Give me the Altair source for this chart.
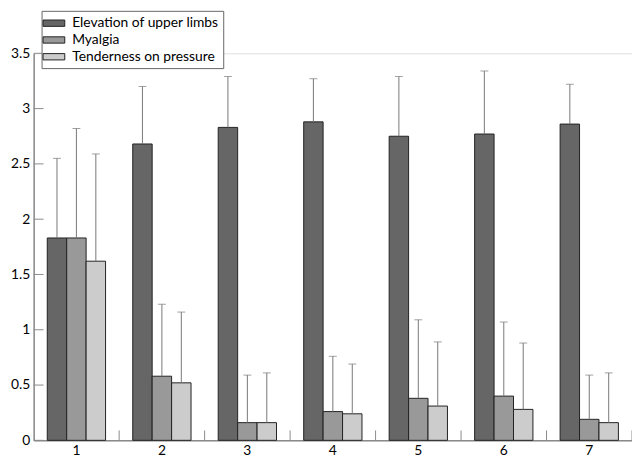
import altair as alt
import pandas as pd

groups = ["1", "2", "3", "4", "5", "6", "7"]
series = ["Elevation of upper limbs", "Myalgia", "Tenderness on pressure"]

elev = [1.83, 2.68, 2.83, 2.88, 2.75, 2.77, 2.86]
elev_sd = [0.72, 0.52, 0.46, 0.39, 0.54, 0.57, 0.36]
myal = [1.83, 0.58, 0.16, 0.26, 0.38, 0.40, 0.19]
myal_sd = [0.99, 0.65, 0.43, 0.50, 0.71, 0.67, 0.40]
tend = [1.62, 0.52, 0.16, 0.24, 0.31, 0.28, 0.16]
tend_sd = [0.97, 0.64, 0.45, 0.45, 0.58, 0.60, 0.45]

y_ticks = [0, 0.5, 1, 1.5, 2, 2.5, 3, 3.5]
boundaries = [1, 2, 3, 4, 5, 6, 7]

rows = []
for i, g in enumerate(groups):
    for s, vals, sds in zip(series, [elev, myal, tend], [elev_sd, myal_sd, tend_sd]):
        rows.append(dict(group=g, series=s, value=vals[i], top=vals[i] + sds[i]))
df = pd.DataFrame(rows)

W, H = 606, 392
FONT = "Lato"
AX = "#8a8a8a"

xscale = alt.Scale(paddingInner=0.318, paddingOuter=0.159)
xoscale = alt.Scale(paddingInner=0, paddingOuter=0)
yscale = alt.Scale(domain=[0, 3.5], nice=False)
yaxis = alt.Axis(values=y_ticks, ticks=False, grid=False, format="~g",
                 domainColor=AX, domainWidth=1.5, labelFontSize=14,
                 labelPadding=4, labelColor="#000000", labelFont=FONT)

bars = alt.Chart(df).mark_bar(stroke="#222222", strokeWidth=1).encode(
    x=alt.X("group:N", sort=groups, scale=xscale, title=None,
            axis=alt.Axis(labelAngle=0, ticks=False, domainColor=AX, domainWidth=1.5,
                          labelFontSize=14, labelPadding=3, labelColor="#000000",
                          labelFont=FONT)),
    xOffset=alt.XOffset("series:N", sort=series, scale=xoscale),
    y=alt.Y("value:Q", scale=yscale, title=None, axis=yaxis),
    color=alt.Color("series:N", sort=series,
                    scale=alt.Scale(domain=series, range=["#666666", "#999999", "#cccccc"]),
                    legend=alt.Legend(title=None, orient="none", legendX=8, legendY=-43,
                                      symbolType="M-1.375,-0.4H1.375V0.4H-1.375Z",
                                      symbolSize=256,
                                      symbolStrokeColor="#222222", symbolStrokeWidth=1,
                                      symbolOpacity=1,
                                      labelFontSize=14, labelFont=FONT, labelColor="#000000",
                                      labelOffset=10, labelLimit=400, rowPadding=1,
                                      strokeColor="#666666", fillColor="white",
                                      padding=4)),
)

err = alt.Chart(df).mark_rule(color="#777777", strokeWidth=1).encode(
    x=alt.X("group:N", sort=groups, scale=xscale, axis=None),
    xOffset=alt.XOffset("series:N", sort=series, scale=xoscale),
    y=alt.Y("value:Q", scale=yscale, title=None, axis=yaxis),
    y2="top:Q",
)

caps = alt.Chart(df).mark_tick(color="#777777", thickness=1, size=8, orient="horizontal").encode(
    x=alt.X("group:N", sort=groups, scale=xscale, axis=None),
    xOffset=alt.XOffset("series:N", sort=series, scale=xoscale),
    y=alt.Y("top:Q", scale=yscale, title=None, axis=yaxis),
)

yt = alt.Chart(pd.DataFrame({"t": y_ticks})).mark_rule(color=AX, strokeWidth=1).encode(
    y=alt.Y("t:Q", scale=yscale, title=None, axis=yaxis),
    x=alt.value(0), x2=alt.value(10),
)

bt = alt.Chart(pd.DataFrame({"b": boundaries})).mark_rule(color=AX, strokeWidth=1).encode(
    x=alt.X("b:Q", scale=alt.Scale(domain=[0, 7], nice=False), axis=None),
    y=alt.value(H - 10), y2=alt.value(H),
)

chart = alt.layer(bars, err, caps, yt, bt).resolve_scale(x="independent").properties(
    width=W, height=H,
    autosize=alt.AutoSizeParams(type="none"),
    padding={"left": 26, "top": 43, "right": 0, "bottom": 15},
).configure_view(stroke=None).configure(font=FONT)

chart.save("out.html", embed_options={"renderer": "svg", "actions": False})
